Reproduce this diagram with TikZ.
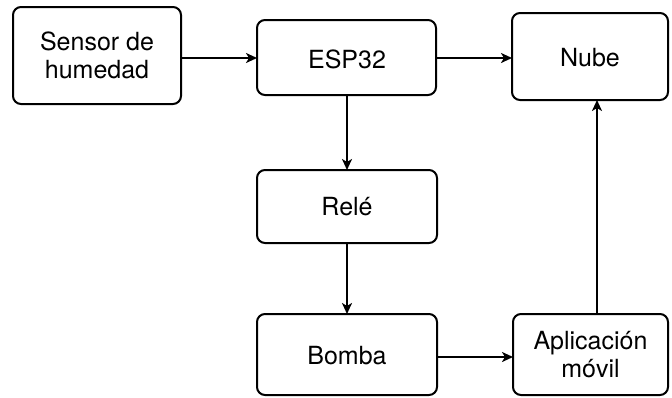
\documentclass[tikz,border=0pt]{standalone}
\usepackage{fontspec}
\setmainfont{TeX Gyre Heros}
\usetikzlibrary{arrows.meta}
\begin{document}
\begin{tikzpicture}[x=1pt,y=-1pt,
  blk/.style={draw=black, line width=2pt, rounded corners=8pt, fill=white},
  lbl/.style={font=\fontsize{25}{28}\selectfont, align=center},
  arr/.style={line width=2pt, -{Stealth[length=11pt,width=10pt,inset=3pt]}}]
\fill[white] (0,0) rectangle (672,397);
\useasboundingbox (0,0) rectangle (672,397);
% boxes
\draw[blk] (13,7) rectangle (181,104);
\node[lbl] (sensor) at (97,55.5) {Sensor de\\humedad};
\coordinate (sensorR) at (181,58);
\draw[blk] (257,20) rectangle (436,95);
\node[lbl] (esp) at (347,59) {ESP32};
\coordinate (espL) at (257,58);
\coordinate (espR) at (436,58);
\coordinate (espB) at (347,95);
\draw[blk] (512,13) rectangle (668,100);
\node[lbl] (nube) at (590,58) {Nube};
\coordinate (nubeL) at (512,58);
\coordinate (nubeB) at (597,100);
\draw[blk] (257,170) rectangle (437,243);
\node[lbl] (rele) at (347,207) {Relé};
\coordinate (releT) at (347,170);
\coordinate (releB) at (347,243);
\draw[blk] (257,314) rectangle (437,395);
\node[lbl] (bomba) at (347,356) {Bomba};
\coordinate (bombaT) at (347,314);
\coordinate (bombaR) at (437,357);
\draw[blk] (513,314) rectangle (668,395);
\node[lbl] (app) at (590.5,354.5) {Aplicación\\móvil};
\coordinate (appL) at (513,357);
\coordinate (appT) at (597,314);
% arrows
\draw[arr] (sensorR) -- (espL);
\draw[arr] (espR) -- (nubeL);
\draw[arr] (espB) -- (releT);
\draw[arr] (releB) -- (bombaT);
\draw[arr] (bombaR) -- (appL);
\draw[arr] (appT) -- (nubeB);
\end{tikzpicture}
\end{document}
